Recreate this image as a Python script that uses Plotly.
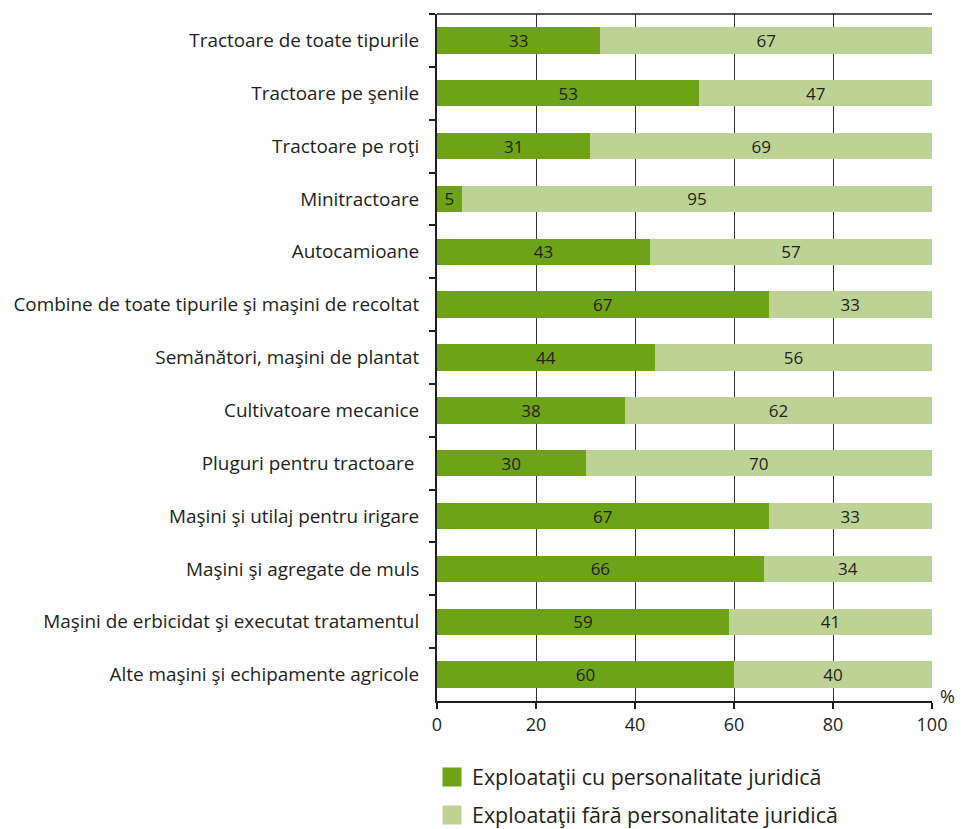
import plotly.graph_objects as go

categories = [
    "Tractoare de toate tipurile",
    "Tractoare pe şenile",
    "Tractoare pe roţi",
    "Minitractoare",
    "Autocamioane",
    "Combine de toate tipurile şi maşini de recoltat",
    "Semănători, maşini de plantat",
    "Cultivatoare mecanice",
    "Pluguri pentru tractoare ",
    "Maşini şi utilaj pentru irigare",
    "Maşini şi agregate de muls",
    "Maşini de erbicidat şi executat tratamentul",
    "Alte maşini şi echipamente agricole",
]
cu_pj = [33, 53, 31, 5, 43, 67, 44, 38, 30, 67, 66, 59, 60]
fara_pj = [67, 47, 69, 95, 57, 33, 56, 62, 70, 33, 34, 41, 40]
series_names = ["Exploataţii cu personalitate juridică", "Exploataţii fără personalitate juridică"]
x_ticks = [0, 20, 40, 60, 80, 100]

TXT = "#231F20"
FONT = "Open Sans"
COLORS = ["#6EA318", "#BDD395"]

fig = go.Figure()
for name, vals, col in [(series_names[0], cu_pj, COLORS[0]), (series_names[1], fara_pj, COLORS[1])]:
    fig.add_trace(go.Bar(
        y=categories, x=vals, name=name, orientation="h",
        marker=dict(color=col, line=dict(width=0)),
        text=[str(v) for v in vals], textposition="inside", insidetextanchor="middle",
        textangle=0, constraintext="none",
        textfont=dict(family=FONT, size=17, color=TXT),
        hoverinfo="skip", showlegend=False,
    ))

# legend entries (square markers)
for i, (name, col) in enumerate(zip(series_names, COLORS)):
    fig.add_trace(go.Scatter(
        x=[None], y=[None], mode="markers", name=name,
        marker=dict(symbol="square", size=16, color=col, line=dict(color=col, width=3)),
        legend="legend" if i == 0 else "legend2", showlegend=True,
    ))

leg_common = dict(
    orientation="v", xref="container", yref="container", xanchor="left", yanchor="middle",
    font=dict(family=FONT, size=21.4, color=TXT), itemsizing="trace",
    bgcolor="rgba(0,0,0,0)", itemwidth=30,
)
fig.update_layout(
    barmode="stack",
    bargap=0.5,
    width=962, height=829,
    margin=dict(l=437, r=30, t=14, b=128, autoexpand=False),
    plot_bgcolor="white", paper_bgcolor="white",
    font=dict(family=FONT, size=18, color=TXT),
    showlegend=True,
    legend=dict(x=432 / 962, y=1 - 777 / 829, **leg_common),
    legend2=dict(x=432 / 962, y=1 - 815 / 829, **leg_common),
)
fig.update_xaxes(
    range=[0, 100], tickvals=x_ticks, ticktext=[str(v) for v in x_ticks],
    showgrid=True, gridcolor="#333333", gridwidth=1,
    showline=True, linecolor="#231F20", linewidth=2, mirror=False,
    ticks="outside", ticklen=6, tickwidth=2, tickcolor="#231F20",
    tickfont=dict(family=FONT, size=18, color=TXT), zeroline=False, automargin=False,
)
fig.update_yaxes(
    autorange="reversed", tickson="boundaries",
    showgrid=False,
    showline=True, linecolor="#231F20", linewidth=2,
    ticks="outside", ticklen=6, tickwidth=2, tickcolor="#231F20",
    tickfont=dict(family=FONT, size=18.9, color=TXT), automargin=False,
    ticklabelstandoff=12,
)
# top border line
fig.add_shape(type="line", xref="paper", yref="paper", x0=0, x1=1, y0=1, y1=1,
              line=dict(color="#231F20", width=1.5))
fig.add_annotation(text="%", xref="paper", yref="paper", x=1.012, y=0.0, xanchor="left", yanchor="middle",
                   yshift=5, showarrow=False, font=dict(family=FONT, size=18, color=TXT))

fig.write_html("out.html", config={"displayModeBar": False},
               post_script="document.body.style.margin='0';document.body.style.padding='0';")
